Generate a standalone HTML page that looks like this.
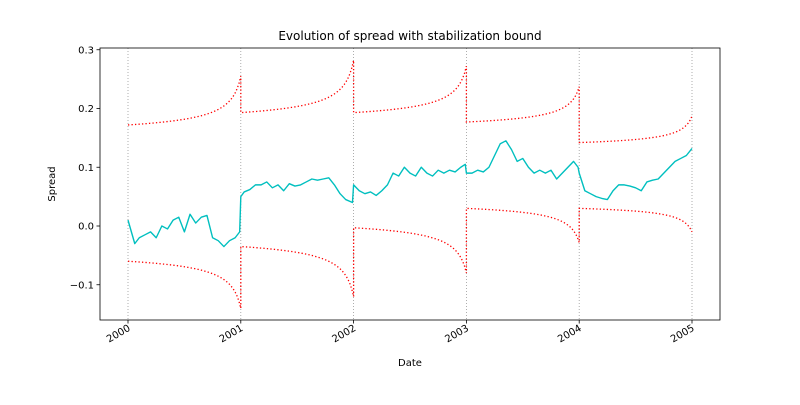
<!DOCTYPE html>
<html><head><meta charset="utf-8"><style>body{margin:0;background:#fff}svg{font-family:"DejaVu Sans","Liberation Sans",sans-serif}</style></head>
<body>
<svg id="c" width="800" height="400"></svg>
<script>
const years=[2000,2001,2002,2003,2004,2005];
const yTicks=[-0.1,0.0,0.1,0.2,0.3];
const yTickLabels=["−0.1","0.0","0.1","0.2","0.3"];
const spreadT=[2000,2000.03,2000.06,2000.1,2000.15,2000.2,2000.25,2000.3,2000.35,2000.4,2000.45,2000.5,2000.55,2000.6,2000.65,2000.7,2000.75,2000.8,2000.85,2000.9,2000.95,2000.99,2001.0,2001.03,2001.08,2001.13,2001.18,2001.23,2001.28,2001.33,2001.38,2001.43,2001.48,2001.53,2001.58,2001.63,2001.68,2001.73,2001.78,2001.83,2001.88,2001.93,2001.99,2002.0,2002.05,2002.1,2002.15,2002.2,2002.25,2002.3,2002.35,2002.4,2002.45,2002.5,2002.55,2002.6,2002.65,2002.7,2002.75,2002.8,2002.85,2002.9,2002.95,2002.99,2003.0,2003.05,2003.1,2003.15,2003.2,2003.25,2003.3,2003.35,2003.4,2003.45,2003.5,2003.55,2003.6,2003.65,2003.7,2003.75,2003.8,2003.85,2003.9,2003.95,2003.99,2004.0,2004.05,2004.1,2004.15,2004.2,2004.25,2004.3,2004.35,2004.4,2004.45,2004.5,2004.55,2004.6,2004.65,2004.7,2004.75,2004.8,2004.85,2004.9,2004.95,2005.0];
const spreadV=[0.01,-0.01,-0.03,-0.02,-0.015,-0.01,-0.02,0.0,-0.005,0.01,0.015,-0.01,0.02,0.005,0.015,0.018,-0.02,-0.025,-0.035,-0.025,-0.02,-0.01,0.05,0.058,0.062,0.07,0.07,0.075,0.065,0.07,0.06,0.072,0.068,0.07,0.075,0.08,0.078,0.08,0.082,0.07,0.055,0.045,0.04,0.07,0.06,0.055,0.058,0.052,0.06,0.07,0.09,0.085,0.1,0.09,0.085,0.1,0.09,0.085,0.095,0.09,0.095,0.092,0.1,0.105,0.09,0.09,0.095,0.092,0.1,0.12,0.14,0.145,0.13,0.11,0.115,0.1,0.09,0.095,0.09,0.095,0.08,0.09,0.1,0.11,0.1,0.09,0.06,0.055,0.05,0.047,0.045,0.06,0.07,0.07,0.068,0.065,0.06,0.075,0.078,0.08,0.09,0.1,0.11,0.115,0.12,0.132];
const upperStart=[0.172,0.193,0.193,0.177,0.142];
const upperEnd=[0.255,0.282,0.272,0.237,0.187];
const lowerStart=[-0.06,-0.035,-0.003,0.03,0.03];
const lowerEnd=[-0.14,-0.12,-0.08,-0.028,-0.01];
const NS="http://www.w3.org/2000/svg",svg=document.getElementById('c');
const L=100,R=720,T=48,B=320;
const x=t=>128+(t-2000)*112.8;
const y=v=>226-v*587.5;
function mk(tag,a,txt){const e=document.createElementNS(NS,tag);for(const k in a)e.setAttribute(k,a[k]);if(txt!==undefined)e.textContent=txt;svg.appendChild(e);return e;}
const shp=s=>(1/Math.sqrt(1.06-s)-1/Math.sqrt(1.06))/(1/Math.sqrt(0.06)-1/Math.sqrt(1.06));
// year grid
years.forEach(yr=>{const g=mk('line',{x1:x(yr),x2:x(yr),y1:T,y2:B,stroke:'#999','stroke-width':0.8,'stroke-dasharray':'1,2'});

});
// bounds
function bound(st,en,name){let d='';for(let i=0;i<st.length;i++){for(let j=0;j<=60;j++){const s=j/60;const v=st[i]+(en[i]-st[i])*shp(s);d+=(d===''?'M':'L')+x(years[i]+s).toFixed(2)+','+y(v).toFixed(2);}}
const p=mk('path',{d:d,fill:'none',stroke:'#f00','stroke-width':1.3,'stroke-dasharray':'1.3,2.2'});

}
bound(upperStart,upperEnd,'upper-bound-line');
bound(lowerStart,lowerEnd,'lower-bound-line');
// spread
let d='';spreadT.forEach((t,i)=>{d+=(i?'L':'M')+x(t).toFixed(2)+','+y(spreadV[i]).toFixed(2);});
const sp=mk('path',{d:d,fill:'none',stroke:'#00bfbf','stroke-width':1.4,'stroke-linejoin':'round'});


// frame
const fr=mk('rect',{x:L,y:T,width:R-L,height:B-T,fill:'none',stroke:'#000','stroke-width':0.8});


yTicks.forEach((v,i)=>{mk('line',{x1:L-3.5,x2:L,y1:y(v),y2:y(v),stroke:'#000','stroke-width':0.8});
const t=mk('text',{x:L-6,y:y(v)+3.5,'text-anchor':'end','font-size':10},yTickLabels[i]);

});
years.forEach(yr=>{mk('line',{x1:x(yr),x2:x(yr),y1:B,y2:B+3.5,stroke:'#000','stroke-width':0.8});
const t=mk('text',{x:x(yr)+3,y:B+10,'text-anchor':'end','font-size':10,transform:`rotate(-30 ${x(yr)+3} ${B+10})`},String(yr));

});
const tt=mk('text',{x:410,y:40,'text-anchor':'middle','font-size':12},'Evolution of spread with stabilization bound');


const xt=mk('text',{x:410,y:366,'text-anchor':'middle','font-size':10},'Date');


const yt=mk('text',{x:55,y:184,'text-anchor':'middle','font-size':10,transform:'rotate(-90 55 184)'},'Spread');


</script>
</body></html>
